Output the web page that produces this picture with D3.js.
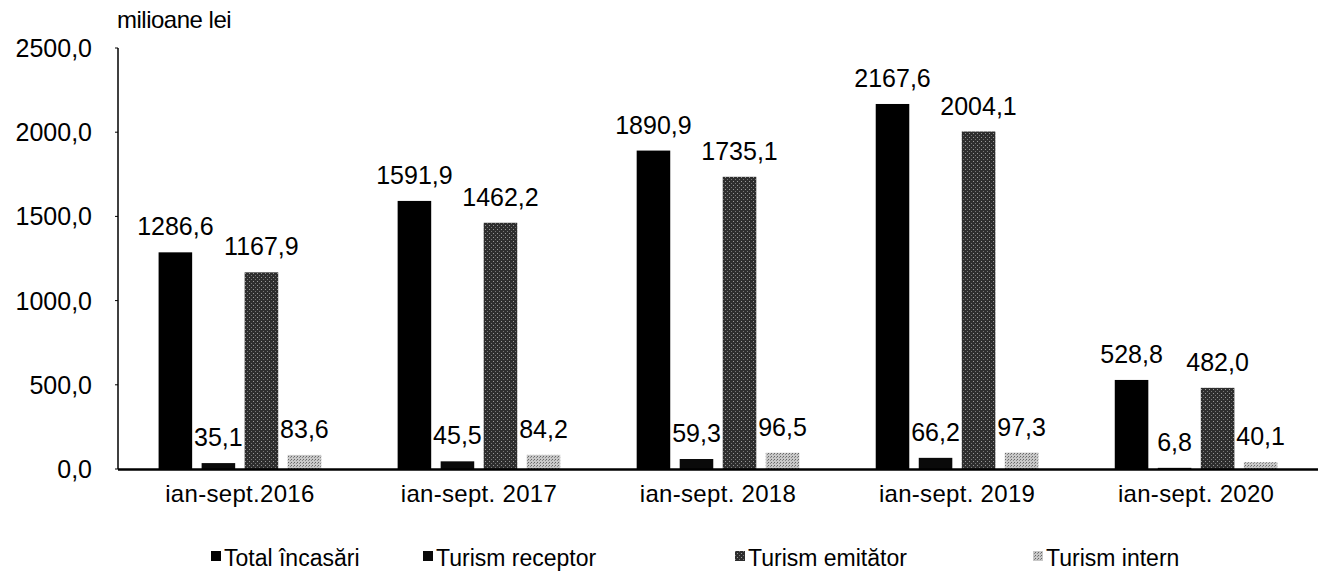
<!DOCTYPE html>
<html><head><meta charset="utf-8">
<script src="https://cdn.jsdelivr.net/npm/d3@7"></script>
<style>body{margin:0;background:#fff}svg{display:block;font-family:Arial,"Liberation Sans",sans-serif}</style>
</head><body><svg id="c" width="1330" height="583"></svg>
<script>
const categories = ["ian-sept.2016","ian-sept. 2017","ian-sept. 2018","ian-sept. 2019","ian-sept. 2020"];
const seriesNames = ["Total încasări","Turism receptor","Turism emitător","Turism intern"];
const totalIncasari = [1286.6,1591.9,1890.9,2167.6,528.8];
const turismReceptor = [35.1,45.5,59.3,66.2,6.8];
const turismEmitator = [1167.9,1462.2,1735.1,2004.1,482.0];
const turismIntern = [83.6,84.2,96.5,97.3,40.1];
const yTicks = [0,500,1000,1500,2000,2500];
const unitLabel = "milioane lei";

const series = [totalIncasari, turismReceptor, turismEmitator, turismIntern];
const fills = ["#000","#0a0a0a","url(#pEm)","url(#pIn)"];

const svg = d3.select("#c");
const defs = svg.append("defs");
const pEm = defs.append("pattern").attr("id","pEm").attr("width",4).attr("height",4).attr("patternUnits","userSpaceOnUse");
pEm.append("rect").attr("width",4).attr("height",4).attr("fill","#2e2e2e");
pEm.append("rect").attr("x",1).attr("y",1).attr("width",1).attr("height",1).attr("fill","#9a9a9a");
pEm.append("rect").attr("x",3).attr("y",3).attr("width",1).attr("height",1).attr("fill","#777");
const pIn = defs.append("pattern").attr("id","pIn").attr("width",3).attr("height",3).attr("patternUnits","userSpaceOnUse");
pIn.append("rect").attr("width",3).attr("height",3).attr("fill","#c8c8c8");
pIn.append("rect").attr("x",0).attr("y",0).attr("width",1).attr("height",1).attr("fill","#666");
pIn.append("rect").attr("x",2).attr("y",1).attr("width",1).attr("height",1).attr("fill","#888");

const L = 118, R = 1318, T = 48, B = 469;
const y = d3.scaleLinear().domain([0,2500]).range([B,T]);
const x0 = d3.scaleBand().domain(categories).range([L,R]).paddingInner(0.28).paddingOuter(0.15);
const x1 = d3.scaleBand().domain(d3.range(4)).range([0,x0.bandwidth()]).paddingInner(0.22).paddingOuter(0.11);
const fmt = v => d3.format(".1f")(v).replace(".",",");

// y axis
svg.append("line").attr("x1",L).attr("x2",L).attr("y1",T).attr("y2",B).attr("stroke","#000").attr("stroke-width",1.5);
svg.append("g").selectAll("line").data(yTicks).join("line")
  .attr("x1",L-3).attr("x2",L).attr("y1",d=>y(d)).attr("y2",d=>y(d)).attr("stroke","#000");
svg.append("g").selectAll("text").data(yTicks).join("text")
  .attr("x",92).attr("y",d=>y(d)+9).attr("text-anchor","end").attr("font-size",25).text(fmt);
svg.append("text").attr("x",L-1).attr("y",28).attr("font-size",24).attr("letter-spacing",-0.5).text(unitLabel);

// bars
const g = svg.append("g");
categories.forEach((c,i)=>{
  series.forEach((s,j)=>{
    const bx = x0(c)+x1(j), bw = x1.bandwidth();
    g.append("rect").attr("x",bx).attr("y",y(s[i])).attr("width",bw).attr("height",B-y(s[i])).attr("fill",fills[j]);
  });
});
// x axis line
svg.append("line").attr("x1",L).attr("x2",R).attr("y1",B+0.5).attr("y2",B+0.5).attr("stroke","#000").attr("stroke-width",2.5);
// labels
categories.forEach((c,i)=>{
  series.forEach((s,j)=>{
    const bx = x0(c)+x1(j)+x1.bandwidth()/2;
    const ly = Math.min(y(s[i])-17, B-17);
    svg.append("text").attr("x",bx).attr("y",ly).attr("text-anchor","middle").attr("font-size",25).text(fmt(s[i]));
  });
});
// category labels
svg.append("g").selectAll("text").data(categories).join("text")
  .attr("x",d=>x0(d)+x0.bandwidth()/2).attr("y",502).attr("text-anchor","middle").attr("font-size",24).attr("letter-spacing",0.3).text(d=>d);

// legend
const legX = [224,436,748,1046];
const leg = svg.append("g");
seriesNames.forEach((n,j)=>{
  leg.append("rect").attr("x",legX[j]-13).attr("y",551).attr("width",10).attr("height",10).attr("fill",fills[j]);
  leg.append("text").attr("x",legX[j]).attr("y",566).attr("font-size",23).text(n);
});
</script></body></html>
